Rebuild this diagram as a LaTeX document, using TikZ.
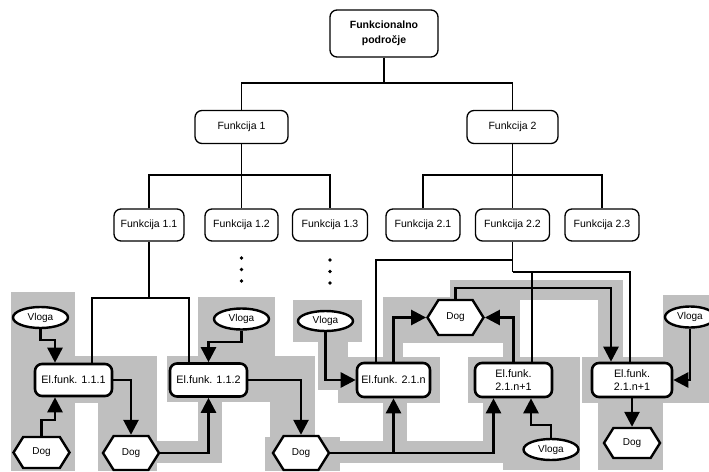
\documentclass[tikz,border=0pt]{standalone}
\usepackage{fontspec}
\setmainfont{Liberation Sans}
\usetikzlibrary{shapes.geometric,shapes.symbols,arrows.meta}
\begin{document}
\begin{tikzpicture}[x=1pt,y=-1pt,
  tnode/.style={draw, rounded corners=7pt, line width=1.3pt, fill=white, minimum height=33pt, inner sep=1pt, font=\fontsize{10.5}{12}\selectfont},
  enode/.style={draw, rounded corners=7pt, line width=2.6pt, fill=white, minimum height=33pt, inner sep=1pt, align=center, font=\fontsize{10.8}{13}\selectfont},
  vnode/.style={ellipse, draw, line width=2.4pt, fill=white, inner sep=0pt, minimum width=55pt, minimum height=21pt, font=\fontsize{10}{12}\selectfont},
  dnode/.style={signal, signal to=west and east, signal pointer angle=116, draw, line width=2.4pt, fill=white, inner sep=0pt, minimum width=56pt, minimum height=32pt, font=\fontsize{10}{12}\selectfont},
  tree/.style={line width=1.2pt},
  conn/.style={line width=2.6pt, -{Triangle[length=15pt,width=15pt]}},
  patch/.style={fill=black!25, draw=none}
]
\useasboundingbox (0,0) rectangle (709,471);
% gray patches
\fill[patch] (11,292) rectangle (75,471);
\fill[patch] (11,356) rectangle (157,403);
\fill[patch] (98,356) rectangle (157,471);
\fill[patch] (98,441) rectangle (222,463);
\fill[patch] (198,402) rectangle (222,463);
\fill[patch] (167,356) rectangle (315,402);
\fill[patch] (198,297) rectangle (275,357);
\fill[patch] (270,402) rectangle (315,437);
\fill[patch] (265,437) rectangle (340,471);
\fill[patch] (293,300) rectangle (362,342);
\fill[patch] (318,342) rectangle (348,390);
\fill[patch] (338,357) rectangle (440,403);
\fill[patch] (340,441) rectangle (503,463);
\fill[patch] (383,403) rectangle (407,441);
\fill[patch] (483,403) rectangle (503,441);
\fill[patch] (383,297) rectangle (520,343);
\fill[patch] (383,343) rectangle (403,357);
\fill[patch] (503,343) rectangle (520,357);
\fill[patch] (450,280) rectangle (623,300);
\fill[patch] (598,280) rectangle (623,357);
\fill[patch] (468,357) rectangle (580,403);
\fill[patch] (503,403) rectangle (580,470);
\fill[patch] (582,357) rectangle (682,403);
\fill[patch] (663,295) rectangle (709,403);
\fill[patch] (598,403) rectangle (663,470);

% tree nodes
\node[tnode, minimum width=108pt, minimum height=47pt, align=center, font=\bfseries\fontsize{10.5}{15}\selectfont] (root) at (384,33.5) {Funkcionalno\\področje};
\node[tnode, minimum width=93pt] (f1) at (241.5,127) {Funkcija 1};
\node[tnode, minimum width=91pt] (f2) at (512.5,127) {Funkcija 2};
\node[tnode, minimum width=70pt, minimum height=32pt] (f11) at (149,225) {Funkcija 1.1};
\node[tnode, minimum width=73pt, minimum height=32pt] (f12) at (241.5,225) {Funkcija 1.2};
\node[tnode, minimum width=75pt, minimum height=32pt] (f13) at (330,225) {Funkcija 1.3};
\node[tnode, minimum width=74pt, minimum height=32pt] (f21) at (423,225) {Funkcija 2.1};
\node[tnode, minimum width=74pt, minimum height=32pt] (f22) at (512.5,225) {Funkcija 2.2};
\node[tnode, minimum width=74pt, minimum height=32pt] (f23) at (602,225) {Funkcija 2.3};

\coordinate (rb) at (384,83);
\coordinate (b1) at (241.5,175);
\coordinate (b2) at (512.5,175);
\draw[tree] (root.south) -- (rb);
\draw[tree] (f1.north) |- (rb) -| (f2.north);
\draw[tree] (f1.south) -- (f12.north);
\draw[tree] (f11.north) |- (b1) -| (f13.north);
\draw[tree] (f2.south) -- (f22.north);
\draw[tree] (f21.north) |- (b2) -| (f23.north);

% dots
\fill (241.5,258) circle (1.8pt);
\fill (241.5,269.5) circle (1.8pt);
\fill (241.5,281) circle (1.8pt);
\fill (330,260) circle (1.8pt);
\fill (330,271.5) circle (1.8pt);
\fill (330,283) circle (1.8pt);

% element nodes
\node[enode, minimum width=77pt, minimum height=32pt] (e111) at (73.5,380) {El.funk. 1.1.1};
\node[enode, minimum width=77pt] (e112) at (208.5,380) {El.funk. 1.1.2};
\node[enode, minimum width=73pt, minimum height=34pt] (e21n) at (393.5,380) {El.funk. 2.1.n};
\node[enode, minimum width=77pt, minimum height=34pt] (e21m) at (513.5,380) {El.funk.\\2.1.n+1};
\node[enode, minimum width=80pt, minimum height=34pt] (e21r) at (632,380) {El.funk.\\2.1.n+1};

\node[vnode] (v1) at (40.5,317.5) {Vloga};
\node[vnode] (v2) at (241.5,319) {Vloga};
\node[vnode, minimum height=20pt] (v3) at (325.5,321) {Vloga};
\node[vnode] (v4) at (551,449.5) {Vloga};
\node[vnode, minimum width=50pt] (v5) at (690,317) {Vloga};

\node[dnode, minimum height=31pt] (d1) at (41.5,452.5) {Dog};
\node[dnode, minimum height=34pt] (d2) at (131,453) {Dog};
\node[dnode, minimum height=34pt] (d3) at (301,453) {Dog};
\node[dnode, minimum height=35pt] (d4) at (455.5,317.5) {Dog};
\node[dnode, minimum height=30pt] (d5) at (632,443) {Dog};

% tree lines down to elements
\coordinate (j1) at (149,298);
\coordinate (j2) at (512.5,260);
\coordinate (j3) at (512.5,272);
\draw[tree] (f11.south) -- (j1);
\draw[tree] ([xshift=18.5pt]e111.north) |- (j1) -| ([xshift=-19.5pt]e112.north);
\draw[tree] (f22.south) -- (j3);
\draw[tree] (j2) -| ([xshift=-17.5pt]e21n.north);
\draw[tree] (j3) -| ([xshift=-2pt]e21r.north);
\draw[tree] ([xshift=18.5pt]e21m.north) -- ([xshift=18.5pt]e21m.north |- j3);

% flow connectors
\draw[conn] (v1.south) -- (40.5,340) -| ([xshift=-18.5pt]e111.north);
\draw[conn] (d1.north) -- (41.5,420) -| ([xshift=-18.5pt]e111.south);
\draw[conn] (e111.east) -| (d2.north);
\draw[conn] (d2.east) -| (e112.south);
\draw[conn] (v2.south) -- (241.5,342) -| (e112.north);
\draw[conn] (e112.east) -| (d3.north);
\draw[conn] (d3.east) -| (e21n.south);
\draw[conn] (d3.east) -| ([xshift=-20pt]e21m.south);
\draw[conn] (v3.south) |- (e21n.west);
\draw[conn] (e21n.north) |- (d4.west);
\draw[conn] (e21m.north) |- (d4.east);
\draw[conn] (d4.north) -- (455.5,288) -| ([xshift=-21pt]e21r.north);
\draw[conn] (v5.south) |- (e21r.east);
\draw[conn] (e21r.south) -- (d5.north);
\draw[conn] (v4.north) -- (551,425) -| ([xshift=17.5pt]e21m.south);
\end{tikzpicture}
\end{document}
